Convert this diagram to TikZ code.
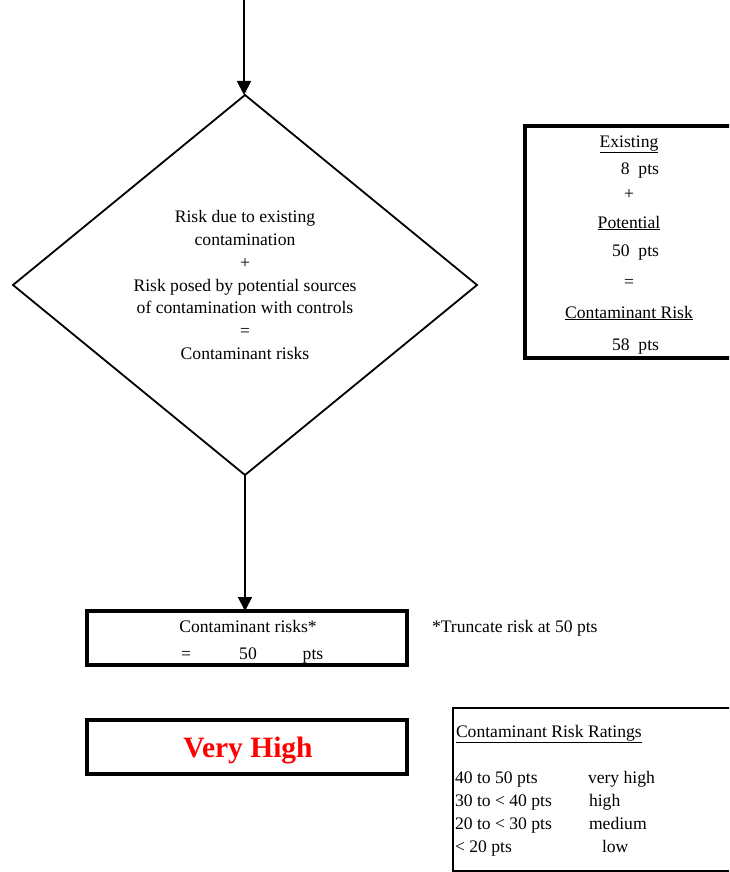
\documentclass[tikz,border=0pt]{standalone}
\usepackage{fontspec}
\setmainfont{Liberation Serif}
\usetikzlibrary{shapes.geometric,arrows.meta}
\begin{document}
\begin{tikzpicture}[x=1pt,y=-1pt,
  every node/.style={inner sep=0pt, outer sep=0pt, font=\fontsize{17.6}{22.7}\selectfont},
  lbl/.style={anchor=base},
  lblw/.style={anchor=base west},
  lble/.style={anchor=base east},
  heavybox/.style={draw, line width=3.5pt},
  lightbox/.style={draw, line width=1.2pt},
  conn/.style={line width=1.8pt, -{Triangle[length=14pt,width=14pt]}}]
\useasboundingbox (0,0) rectangle (729,872);
\clip (0,0) rectangle (729,872);

% diamond
\node[draw, diamond, line width=1.8pt, aspect=1.22, minimum width=464pt, minimum height=380pt, align=center] (d) at (245,285)
  {Risk due to existing\\contamination\\+\\Risk posed by potential sources\\of contamination with controls\\=\\Contaminant risks};

\coordinate (top) at (244,0);
\draw[conn] (top) -- (top |- d.north);

% right summary box
\draw[heavybox] (525,126) rectangle (733,358);
\node[lbl] (ex) at (629,147) {\underline{Existing}};
\node[lble] (exv) at (659,174) {8\ \ pts};
\node[lbl] (pl) at (629,199) {+};
\node[lbl] (po) at (629,228) {\underline{Potential}};
\node[lble] (pov) at (659,256) {50\ \ pts};
\node[lbl] (eq) at (629,287) {=};
\node[lbl] (cr) at (629,318) {\underline{Contaminant Risk}};
\node[lble] (crv) at (659,350) {58\ \ pts};

% contaminant risks box
\node[heavybox, minimum width=320pt, minimum height=54pt] (box) at (247,638) {};
\draw[conn] (d.south) -- (d.south |- box.north);
\node[lbl] (bt) at (248,632) {Contaminant risks*};
\node[lbl] (beq) at (186,659) {=};
\node[lbl] (bv) at (248,659) {50};
\node[lbl] (bu) at (313,659) {pts};
\node[lblw] (tr) at (432,632) {*Truncate risk at 50 pts};

% rating box
\node[heavybox, minimum width=320pt, minimum height=54pt] (vh) at (247,747) {};
\node[lbl, text=red, font=\fontsize{29.5}{30}\selectfont\bfseries] (vht) at (248,757) {Very High};

% ratings table
\draw[lightbox] (453,708) rectangle (740,871);
\node[lblw] (rt) at (456,737) {\underline{Contaminant Risk Ratings}};
\node[lblw] (r1) at (455,783) {40 to 50 pts};
\node[lblw] (r2) at (455,806) {30 to < 40 pts};
\node[lblw] (r3) at (455,829) {20 to < 30 pts};
\node[lblw] (r4) at (455,852) {< 20 pts};
\node[lblw] (s1) at (588,783) {very high};
\node[lblw] (s2) at (589,806) {high};
\node[lblw] (s3) at (589,829) {medium};
\node[lblw] (s4) at (602,852) {low};
\end{tikzpicture}
\end{document}
